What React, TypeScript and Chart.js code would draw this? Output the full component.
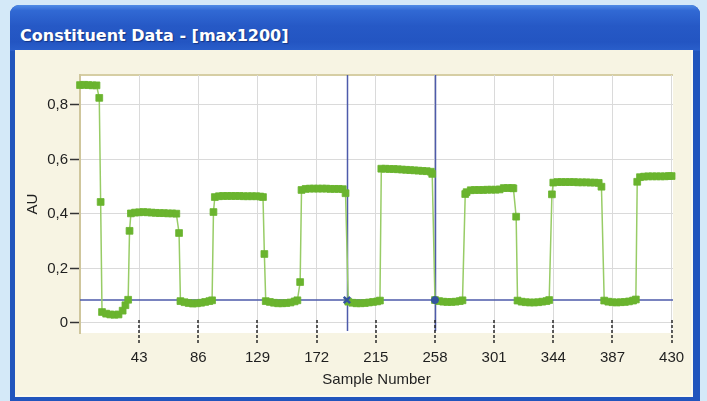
import React, { useEffect, useRef } from 'react';
import { Chart, registerables } from 'chart.js';

Chart.register(...registerables);

const titleText = 'Constituent Data - [max1200]';
const xAxisTitle = 'Sample Number';
const yAxisTitle = 'AU';

const sampleNumbers = [
  0, 3, 6, 9, 12, 14, 15,
  16, 19, 22, 25, 28, 31, 33, 35, 36,
  37, 40, 43, 46, 49, 52, 55, 58, 61, 64, 67, 70, 72,
  73, 76, 79, 82, 85, 88, 91, 94, 96, 97,
  98, 101, 104, 107, 110, 113, 116, 119, 122, 125, 128, 131, 133, 134,
  135, 138, 141, 144, 147, 150, 153, 156, 158, 160,
  161, 164, 167, 170, 173, 176, 179, 182, 185, 188, 191, 193,
  195, 198, 201, 204, 207, 210, 213, 216, 218,
  219, 222, 225, 228, 231, 234, 237, 240, 243, 246, 249, 252, 255, 256,
  258, 261, 264, 267, 270, 273, 276, 278, 280,
  281, 284, 287, 290, 293, 296, 299, 302, 305, 308, 311, 314, 315, 317,
  318, 321, 324, 327, 330, 333, 336, 339, 341, 343,
  344, 347, 350, 353, 356, 359, 362, 365, 368, 371, 374, 377, 379,
  381, 384, 387, 390, 393, 396, 399, 402, 404, 405,
  407, 410, 413, 416, 419, 422, 425, 428, 430,
];

const auValues = [
  0.873, 0.874, 0.873, 0.872, 0.872, 0.826, 0.444,
  0.04, 0.034, 0.031, 0.03, 0.031, 0.045, 0.065, 0.085, 0.338,
  0.402, 0.405, 0.406, 0.407, 0.406, 0.405, 0.404, 0.403, 0.403, 0.402, 0.402, 0.401, 0.33,
  0.08, 0.076, 0.073, 0.071, 0.072, 0.074, 0.077, 0.08, 0.083, 0.407,
  0.462, 0.465, 0.466, 0.466, 0.466, 0.466, 0.466, 0.465, 0.465, 0.465, 0.465, 0.464, 0.462, 0.253,
  0.08, 0.077, 0.074, 0.072, 0.072, 0.073, 0.075, 0.079, 0.083, 0.15,
  0.488, 0.492, 0.493, 0.493, 0.493, 0.493, 0.493, 0.492, 0.492, 0.492, 0.491, 0.476,
  0.078, 0.074, 0.072, 0.072, 0.073, 0.075, 0.077, 0.079, 0.082,
  0.566, 0.566, 0.565, 0.565, 0.564, 0.563, 0.562, 0.561, 0.56, 0.559, 0.558, 0.557, 0.555, 0.547,
  0.084, 0.08, 0.078, 0.077, 0.077, 0.078, 0.08, 0.083, 0.473,
  0.48, 0.487, 0.488, 0.488, 0.488, 0.489, 0.489, 0.489, 0.49, 0.495, 0.495, 0.495, 0.494, 0.39,
  0.082, 0.078, 0.076, 0.075, 0.075, 0.076, 0.078, 0.08, 0.084, 0.472,
  0.515, 0.517, 0.517, 0.517, 0.517, 0.517, 0.516, 0.516, 0.516, 0.515, 0.515, 0.514, 0.5,
  0.082, 0.078, 0.076, 0.075, 0.076, 0.077, 0.079, 0.082, 0.086, 0.518,
  0.535, 0.537, 0.538, 0.538, 0.538, 0.538, 0.538, 0.539, 0.539,
];

const xTickValues = [43, 86, 129, 172, 215, 258, 301, 344, 387, 430];
const yTickValues = [0, 0.2, 0.4, 0.6, 0.8];
const yTickLabels = ['0', '0,2', '0,4', '0,6', '0,8'];

const cursorSamples = [194, 258];
const cursorLevel = 0.084;

const FONT = "'Liberation Sans', Arial, sans-serif";
const TEXT_COLOR = '#1f1f1f';
const CURSOR_COLOR = '#4e5bab';

const framePlugin = {
  id: 'framePlugin',
  beforeDraw(chart: any) {
    const { ctx, chartArea } = chart;
    const { left, top, right, bottom } = chartArea;
    ctx.save();
    ctx.fillStyle = '#ffffff';
    ctx.fillRect(left, top, right - left, bottom - top);
    ctx.strokeStyle = '#d6cea4';
    ctx.lineWidth = 2;
    ctx.beginPath();
    ctx.moveTo(left - 1, top);
    ctx.lineTo(right, top);
    ctx.stroke();
    ctx.restore();
  },
  beforeDatasetsDraw(chart: any) {
    const { ctx, chartArea, scales } = chart;
    const { left, top, right, bottom } = chartArea;
    const yPix = scales.y.getPixelForValue(cursorLevel);
    ctx.save();
    ctx.strokeStyle = CURSOR_COLOR;
    ctx.lineWidth = 1.5;
    ctx.beginPath();
    ctx.moveTo(left, yPix);
    ctx.lineTo(right, yPix);
    cursorSamples.forEach((s) => {
      const xPix = Math.round(scales.x.getPixelForValue(s)) + 0.5;
      ctx.moveTo(xPix, top);
      ctx.lineTo(xPix, bottom - 2);
    });
    ctx.stroke();
    ctx.restore();
  },
  afterDraw(chart: any) {
    const { ctx, chartArea, scales } = chart;
    const { bottom } = chartArea;
    ctx.save();
    ctx.strokeStyle = '#2a2a2a';
    ctx.lineWidth = 1.5;
    ctx.setLineDash([3, 2]);
    xTickValues.forEach((v) => {
      const xPix = Math.round(scales.x.getPixelForValue(v));
      ctx.beginPath();
      ctx.moveTo(xPix, bottom - 13);
      ctx.lineTo(xPix, bottom + 12);
      ctx.stroke();
    });
    ctx.restore();
  },
};

export default function App() {
  const ref = useRef<HTMLCanvasElement>(null);

  useEffect(() => {
    const canvas = ref.current;
    if (!canvas) return;
    const points = sampleNumbers.map((x, i) => ({ x, y: auValues[i] }));
    const cursorPoints = cursorSamples.map((x) => ({ x, y: cursorLevel }));
    const chart = new Chart(canvas, {
      type: 'scatter',
      data: {
        datasets: [
          {
            data: cursorPoints,
            showLine: false,
            pointStyle: ['crossRot', 'circle'],
            pointRadius: [4.5, 3.5],
            pointBorderWidth: [2.5, 1],
            pointBackgroundColor: '#34539f',
            pointBorderColor: '#34539f',
            order: 0,
          } as any,
          {
            data: points,
            showLine: true,
            borderColor: '#98cc66',
            borderWidth: 1.5,
            pointStyle: 'rect',
            pointRadius: 4.8,
            pointBorderWidth: 0.8,
            pointBackgroundColor: '#6ab42e',
            pointBorderColor: '#6ab42e',
            clip: 6,
            order: 1,
          } as any,
        ],
      },
      options: {
        responsive: false,
        animation: false,
        devicePixelRatio: 1,
        layout: { padding: { top: 75, right: 34, left: 0, bottom: 0 } },
        plugins: {
          legend: { display: false },
          tooltip: { enabled: false },
        },
        scales: {
          x: {
            type: 'linear',
            min: 0,
            max: 431,
            afterBuildTicks: (scale: any) => {
              scale.ticks = xTickValues.map((v) => ({ value: v }));
            },
            afterFit: (scale: any) => {
              scale.height = 68;
            },
            ticks: {
              autoSkip: false,
              maxRotation: 0,
              padding: 4,
              color: TEXT_COLOR,
              font: { family: FONT, size: 15 },
              callback: (v: any) => String(v),
            },
            grid: {
              color: '#dadada',
              lineWidth: 1,
              drawTicks: true,
              tickLength: 12,
              tickColor: 'rgba(0,0,0,0)',
            },
            border: { display: false },
            title: {
              display: true,
              text: xAxisTitle,
              color: TEXT_COLOR,
              font: { family: FONT, size: 15 },
              padding: { top: 0, bottom: 12 },
            },
          },
          y: {
            type: 'linear',
            min: -0.037,
            max: 0.91,
            afterBuildTicks: (scale: any) => {
              scale.ticks = yTickValues.map((v) => ({ value: v }));
            },
            afterFit: (scale: any) => {
              scale.width = 80;
            },
            ticks: {
              padding: 2,
              color: TEXT_COLOR,
              font: { family: FONT, size: 15 },
              callback: (_v: any, i: number) => yTickLabels[i],
            },
            grid: {
              color: '#dadada',
              lineWidth: 1,
              drawTicks: true,
              tickLength: 10,
              tickColor: '#333333',
              tickWidth: 1.5,
            },
            border: { display: true, color: '#cfc69c', width: 2 },
            title: {
              display: true,
              text: yAxisTitle,
              color: TEXT_COLOR,
              font: { family: FONT, size: 15 },
              padding: { top: 24, bottom: 0 },
            },
          },
        },
      } as any,
      plugins: [framePlugin],
    });
    return () => chart.destroy();
  }, []);

  return (
    <div
      style={{
        position: 'fixed',
        left: 0,
        top: 0,
        width: 707,
        height: 401,
        overflow: 'hidden',
        background: '#d4e9f8',
      }}
    >
      <div
        style={{
          position: 'absolute',
          left: 10,
          top: 5,
          width: 690,
          height: 400,
          background: '#2155bd',
          borderRadius: '9px 9px 0 0',
        }}
      />
      <div
        style={{
          position: 'absolute',
          left: 10,
          top: 5,
          width: 690,
          height: 46,
          borderRadius: '9px 9px 0 0',
          background:
            'linear-gradient(180deg, #4f8ce6 0%, #3169d4 12%, #2659c6 45%, #2355c2 80%, #2a5fcb 100%)',
        }}
      />
      <div
        style={{
          position: 'absolute',
          left: 20,
          top: 26,
          height: 16,
          lineHeight: '16px',
          color: '#ffffff',
          font: "bold 16px 'DejaVu Sans', sans-serif",
          whiteSpace: 'nowrap',
          textShadow: '1px 1px 1px rgba(10,30,90,0.6)',
        }}
      >
        {titleText}
      </div>
      <div
        style={{
          position: 'absolute',
          left: 15,
          top: 50,
          width: 678,
          height: 347,
          background: '#f7f4e3',
          boxShadow: 'inset -2px -2px 0 #fbf9ee',
        }}
      />
      <canvas
        ref={ref}
        width={707}
        height={401}
        style={{ position: 'absolute', left: 0, top: 0, width: 707, height: 401 }}
      />
    </div>
  );
}
